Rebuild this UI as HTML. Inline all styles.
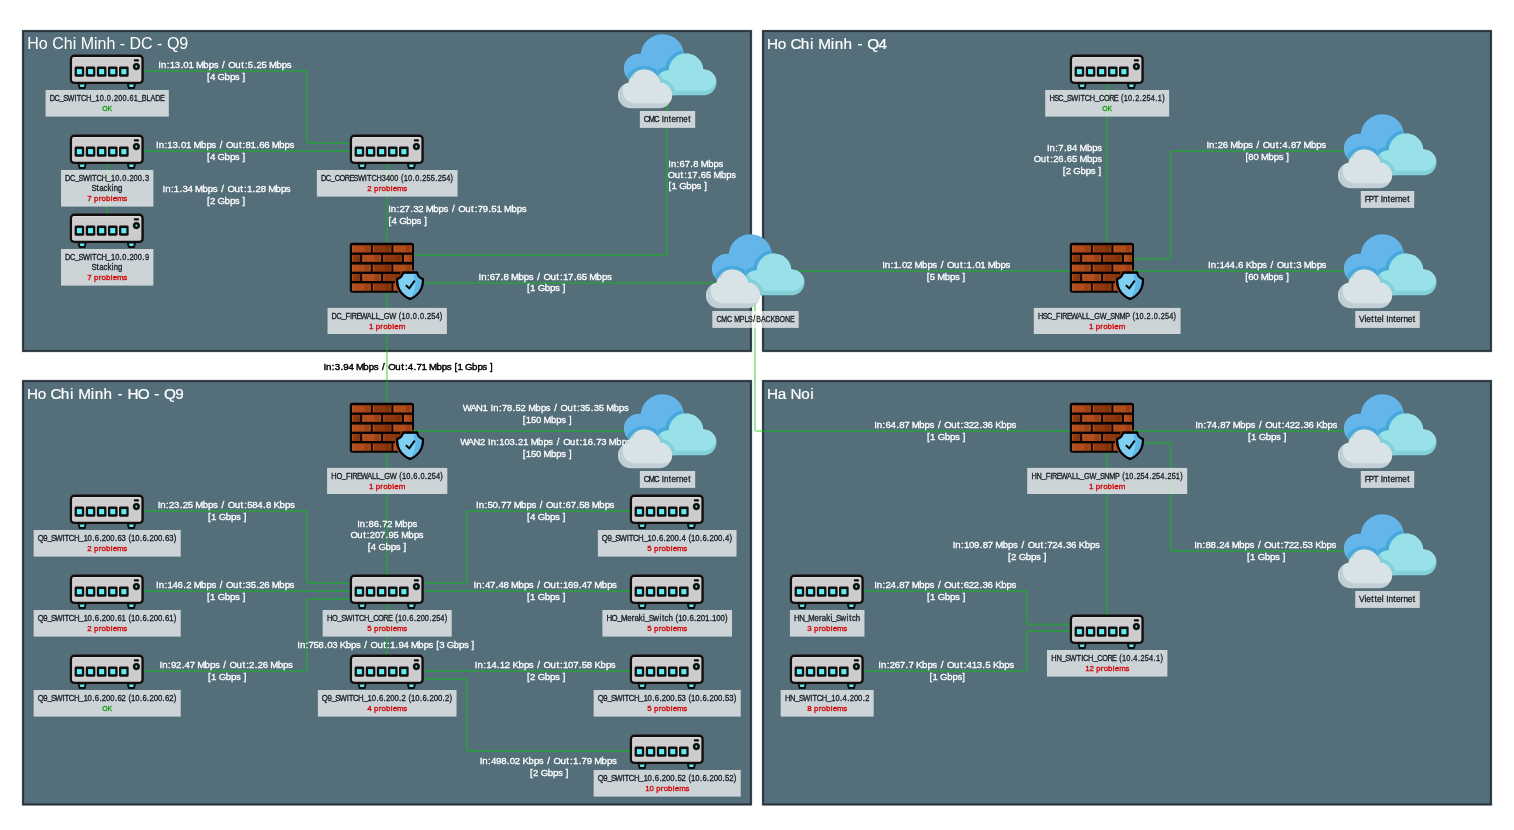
<!DOCTYPE html>
<html lang="en">
<head>
<meta charset="utf-8">
<title>Network map</title>
<style>
html,body{margin:0;padding:0;background:#fff;}
body{width:1514px;height:830px;overflow:hidden;font-family:"Liberation Sans", sans-serif;}
svg{display:block;position:absolute;left:0;top:0;will-change:transform;}
text{white-space:pre;}
</style>
</head>
<body>
<svg width="1514" height="830" viewBox="0 0 1514 830" font-family='"Liberation Sans", sans-serif'>
<defs>
<symbol id="sw" width="74" height="36" viewBox="0 0 74 36" overflow="visible">
  <path d="M8.5 29.6 L9.6 34.1 H14.7 L15.8 29.6 Z" fill="#5ff0f5" stroke="#120e0d" stroke-width="2" stroke-linejoin="round"/>
  <path d="M57.8 29.6 L58.9 34.1 H64 L65.1 29.6 Z" fill="#5ff0f5" stroke="#120e0d" stroke-width="2" stroke-linejoin="round"/>
  <rect x="1" y="1.8" width="71.6" height="27.1" rx="3.2" ry="3.2" fill="#cdcdcf" stroke="#120e0d" stroke-width="2.4"/>
  <path d="M3 27 V5 Q3 3.6 4.4 3.6 H70" fill="none" stroke="#d9d9dc" stroke-width="1.1"/>
  <g fill="#120e0d">
    <rect x="4.6" y="12.55" width="9.6" height="10.2" rx="1.4"/>
    <rect x="15.75" y="12.55" width="9.6" height="10.2" rx="1.4"/>
    <rect x="26.85" y="12.55" width="9.6" height="10.2" rx="1.4"/>
    <rect x="37.95" y="12.55" width="9.6" height="10.2" rx="1.4"/>
    <rect x="49.05" y="12.55" width="9.6" height="10.2" rx="1.4"/>
    <rect x="63.9" y="5.2" width="5" height="2.2" rx="0.4"/>
  </g>
  <g fill="#5ff0f5">
    <rect x="6.9" y="15.05" width="5" height="5.2"/>
    <rect x="18.05" y="15.05" width="5" height="5.2"/>
    <rect x="29.15" y="15.05" width="5" height="5.2"/>
    <rect x="40.25" y="15.05" width="5" height="5.2"/>
    <rect x="51.35" y="15.05" width="5" height="5.2"/>
  </g>
  <circle cx="66.4" cy="12.6" r="2.3" fill="#5ff0f5" stroke="#120e0d" stroke-width="2.5"/>
</symbol>
<symbol id="fw" width="74" height="58" viewBox="0 0 74 58" overflow="visible">
  <mask id="fwm" maskUnits="userSpaceOnUse" x="-2" y="-2" width="80" height="62">
    <rect x="-2" y="-2" width="80" height="62" fill="#fff"/>
    <path d="M52.9 29.6 H67.1 C67.6 33 69.6 35.2 72.9 36.1 C73.2 45.5 69 52 60 56 C51 52 46.8 45.5 47.1 36.1 C50.4 35.2 52.4 33 52.9 29.6 Z" fill="#000" stroke="#000" stroke-width="4.6" stroke-linejoin="round"/>
  </mask>
  <g>
    <rect x="1" y="0.8" width="62" height="47.8" fill="#a4451a"/>
    <rect x="-0.2" y="-0.35" width="64.2" height="50" rx="2.6" fill="#060302" mask="url(#fwm)"/>
    <rect x="2.05" y="2.3" width="18.75" height="7.20" fill="#b14d1c"/><rect x="22.8" y="2.3" width="18.75" height="7.20" fill="#8f370d"/><rect x="43.5" y="2.3" width="18.50" height="7.20" fill="#b14d1c"/><rect x="2.05" y="11.8" width="7.95" height="7.05" fill="#8f370d"/><rect x="12.3" y="11.8" width="18.75" height="7.05" fill="#b14d1c"/><rect x="33.2" y="11.8" width="18.75" height="7.05" fill="#8f370d"/><rect x="54.0" y="11.8" width="8.00" height="7.05" fill="#b14d1c"/><rect x="2.05" y="21.6" width="18.75" height="7.05" fill="#b14d1c"/><rect x="22.8" y="21.6" width="18.75" height="7.05" fill="#8f370d"/><rect x="43.5" y="21.6" width="18.50" height="7.05" fill="#b14d1c"/><rect x="2.05" y="31.0" width="7.95" height="7.00" fill="#8f370d"/><rect x="12.3" y="31.0" width="18.75" height="7.00" fill="#b14d1c"/><rect x="33.2" y="31.0" width="18.75" height="7.00" fill="#8f370d"/><rect x="54.0" y="31.0" width="8.00" height="7.00" fill="#b14d1c"/><rect x="2.05" y="40.4" width="18.75" height="7.40" fill="#b14d1c"/><rect x="22.8" y="40.4" width="18.75" height="7.40" fill="#8f370d"/><rect x="43.5" y="40.4" width="18.50" height="7.40" fill="#b14d1c"/>
    <g fill="#6a2602" opacity="0.3"><rect x="14.43" y="2.3" width="4.77" height="7.20"/><rect x="35.17" y="2.3" width="4.77" height="7.20"/><rect x="55.71" y="2.3" width="4.69" height="7.20"/><rect x="7.30" y="11.8" width="1.91" height="7.05"/><rect x="24.68" y="11.8" width="4.77" height="7.05"/><rect x="45.58" y="11.8" width="4.77" height="7.05"/><rect x="59.28" y="11.8" width="1.92" height="7.05"/><rect x="14.43" y="21.6" width="4.77" height="7.05"/><rect x="35.17" y="21.6" width="4.77" height="7.05"/><rect x="55.71" y="21.6" width="4.69" height="7.05"/><rect x="7.30" y="31.0" width="1.91" height="7.00"/><rect x="24.68" y="31.0" width="4.77" height="7.00"/><rect x="45.58" y="31.0" width="4.77" height="7.00"/><rect x="59.28" y="31.0" width="1.92" height="7.00"/><rect x="14.43" y="40.4" width="4.77" height="7.40"/><rect x="35.17" y="40.4" width="4.77" height="7.40"/><rect x="55.71" y="40.4" width="4.69" height="7.40"/></g>
    <g fill="#d9642a" opacity="0.45"><rect x="2.05" y="2.3" width="1.3" height="7.20"/><rect x="22.8" y="2.3" width="1.3" height="7.20"/><rect x="43.5" y="2.3" width="1.3" height="7.20"/><rect x="2.05" y="11.8" width="1.3" height="7.05"/><rect x="12.3" y="11.8" width="1.3" height="7.05"/><rect x="33.2" y="11.8" width="1.3" height="7.05"/><rect x="54.0" y="11.8" width="1.3" height="7.05"/><rect x="2.05" y="21.6" width="1.3" height="7.05"/><rect x="22.8" y="21.6" width="1.3" height="7.05"/><rect x="43.5" y="21.6" width="1.3" height="7.05"/><rect x="2.05" y="31.0" width="1.3" height="7.00"/><rect x="12.3" y="31.0" width="1.3" height="7.00"/><rect x="33.2" y="31.0" width="1.3" height="7.00"/><rect x="54.0" y="31.0" width="1.3" height="7.00"/><rect x="2.05" y="40.4" width="1.3" height="7.40"/><rect x="22.8" y="40.4" width="1.3" height="7.40"/><rect x="43.5" y="40.4" width="1.3" height="7.40"/></g>
  </g>
  <path d="M52.9 29.6 H67.1 C67.6 33 69.6 35.2 72.9 36.1 C73.2 45.5 69 52 60 56 C51 52 46.8 45.5 47.1 36.1 C50.4 35.2 52.4 33 52.9 29.6 Z" fill="#7dd0f3" stroke="#060302" stroke-width="2" stroke-linejoin="round"/>
  <clipPath id="fws"><path d="M52.9 29.6 H67.1 C67.6 33 69.6 35.2 72.9 36.1 C73.2 45.5 69 52 60 56 C51 52 46.8 45.5 47.1 36.1 C50.4 35.2 52.4 33 52.9 29.6 Z"/></clipPath>
  <g clip-path="url(#fws)"><path d="M61.5 29 C66.5 36 66.5 48 59.5 57 L75 57 V29 Z" fill="#5cbae9"/></g>
  <path d="M52.9 29.6 H67.1 C67.6 33 69.6 35.2 72.9 36.1 C73.2 45.5 69 52 60 56 C51 52 46.8 45.5 47.1 36.1 C50.4 35.2 52.4 33 52.9 29.6 Z" fill="none" stroke="#060302" stroke-width="2.1" stroke-linejoin="round"/>
  <path d="M55.9 42.2 L59.3 45.4 L64.7 37.6" fill="none" stroke="#060302" stroke-width="1.9"/>
</symbol>
<symbol id="cl" width="100" height="76" viewBox="0 0 100 76" overflow="visible">
  <clipPath id="clB"><circle cx="44.4" cy="21.9" r="21.7"/><circle cx="20.7" cy="34.5" r="14.8"/><rect x="20" y="30" width="44" height="30"/></clipPath>
  <clipPath id="clC"><circle cx="68.1" cy="36.8" r="17.3"/><circle cx="85.6" cy="48.4" r="12.85"/><circle cx="50" cy="48.9" r="12.35"/><rect x="50" y="40" width="35.6" height="21.25"/></clipPath>
  <clipPath id="clW"><circle cx="26.3" cy="51.6" r="16.1"/><circle cx="12.6" cy="61.3" r="12.85"/><circle cx="41.2" cy="61.3" r="12.85"/><rect x="12.6" y="55" width="28.6" height="19.15"/></clipPath>
  <g clip-path="url(#clB)">
    <rect x="0" y="0" width="100" height="76" fill="#64b5e9"/>
    <g fill="#49a8dc" stroke="#49a8dc" stroke-width="7.5">
      <circle cx="68.1" cy="36.8" r="17.3"/><circle cx="50" cy="48.9" r="12.35"/>
      <circle cx="26.3" cy="51.6" r="16.1"/><circle cx="12.6" cy="61.3" r="12.85"/><circle cx="41.2" cy="61.3" r="12.85"/>
    </g>
  </g>
  <g clip-path="url(#clC)">
    <rect x="0" y="0" width="100" height="76" fill="#85cfd8"/>
    <g fill="#99e0e9" transform="translate(0,-4.6)">
      <circle cx="68.1" cy="36.8" r="17.3"/><circle cx="85.6" cy="48.4" r="12.85"/><circle cx="50" cy="48.9" r="12.35"/><rect x="50" y="40" width="35.6" height="21.25"/>
    </g>
    <g fill="#85cfd8" stroke="#85cfd8" stroke-width="7.5">
      <circle cx="26.3" cy="51.6" r="16.1"/><circle cx="41.2" cy="61.3" r="12.85"/>
    </g>
  </g>
  <g clip-path="url(#clW)">
    <rect x="0" y="0" width="100" height="76" fill="#c2d0d5"/>
    <g fill="#d8e3e8" transform="translate(4.8,-4.8)">
      <circle cx="26.3" cy="51.6" r="16.1"/><circle cx="12.6" cy="61.3" r="12.85"/><circle cx="41.2" cy="61.3" r="12.85"/><rect x="12.6" y="55" width="28.6" height="19.15"/>
    </g>
  </g>
</symbol>
</defs>

<rect x="0" y="0" width="1514" height="830" fill="#ffffff"/>
<g id="panels">
<rect x="23" y="31" width="728" height="320" fill="#546e7a" stroke="#263238" stroke-opacity="0.28" stroke-width="2.7"/>
<rect x="23" y="31" width="728" height="320" fill="none" stroke="#263238" stroke-width="1.75"/>
<rect x="763" y="31" width="728" height="320" fill="#546e7a" stroke="#263238" stroke-opacity="0.28" stroke-width="2.7"/>
<rect x="763" y="31" width="728" height="320" fill="none" stroke="#263238" stroke-width="1.75"/>
<rect x="23" y="381" width="728" height="423.5" fill="#546e7a" stroke="#263238" stroke-opacity="0.28" stroke-width="2.7"/>
<rect x="23" y="381" width="728" height="423.5" fill="none" stroke="#263238" stroke-width="1.75"/>
<rect x="763" y="381" width="728" height="423.5" fill="#546e7a" stroke="#263238" stroke-opacity="0.28" stroke-width="2.7"/>
<rect x="763" y="381" width="728" height="423.5" fill="none" stroke="#263238" stroke-width="1.75"/>
<text x="27.30" y="49.00" font-size="16" fill="#fff">Ho Chi Minh - DC - Q9</text>
<text transform="translate(767.3 49) scale(1.0000 1)" x="-0.29 10.51 19.34 23.13 33.55 42.76 47.02 50.85 63.48 67.57 76.31 85.21 90.13 95.9 99.89 111.19" font-size="15.3" fill="#fff" stroke="#fff" stroke-width="0.2">Ho Chi Minh - Q4</text>
<text transform="translate(27.3 399) scale(1.0000 1)" x="-0.29 10.51 19.34 23.13 33.55 42.76 47.02 50.85 63.48 67.57 76.31 85.21 90.13 95.9 100.14 110.34 121.96 126.88 132.65 136.64 147.94" font-size="15.3" fill="#fff" stroke="#fff" stroke-width="0.2">Ho Chi Minh - HO - Q9</text>
<text transform="translate(767.3 399) scale(1.0000 1)" x="-0.29 10.41 19.15 23.26 33.93 43.06" font-size="15.3" fill="#fff" stroke="#fff" stroke-width="0.2">Ha Noi</text>
</g>
<g id="links" fill="none" stroke="rgba(0,204,0,0.40)" stroke-linejoin="round">
<path d="M143 71 L305 71 Q307 71 307 73 L307 141 Q307 143 309 143 L352 143" stroke-width="2"/>
<path d="M143 151 L352 151" stroke-width="2"/>
<path d="M107 158 L107 218" stroke-width="2"/>
<path d="M387 158 L387 248" stroke-width="2"/>
<path d="M387 288 L387 408" stroke-width="2"/>
<path d="M410 255 L665 255 Q667 255 667 253 L667 98" stroke-width="2"/>
<path d="M418 283 L722 283" stroke-width="2"/>
<path d="M755 288 L755 429 Q755 431 757 431 L1074 431" stroke-width="2"/>
<path d="M788 271 L1074 271" stroke-width="2"/>
<path d="M1107 78 L1107 248" stroke-width="2"/>
<path d="M1132 259 L1169 259 Q1171 259 1171 257 L1171 153 Q1171 151 1173 151 L1345 151" stroke-width="2"/>
<path d="M1132 271 L1345 271" stroke-width="2"/>
<path d="M412 431 L640 431" stroke-width="2"/>
<path d="M387 448 L387 580" stroke-width="2"/>
<path d="M143 511 L305 511 Q307 511 307 513 L307 581 Q307 583 309 583 L352 583" stroke-width="2"/>
<path d="M143 591 L352 591" stroke-width="2"/>
<path d="M143 671 L305 671 Q307 671 307 669 L307 601 Q307 599 309 599 L352 599" stroke-width="2"/>
<path d="M422 583 L465 583 Q467 583 467 581 L467 513 Q467 511 469 511 L632 511" stroke-width="2"/>
<path d="M422 591 L632 591" stroke-width="2"/>
<path d="M387 598 L387 660" stroke-width="2"/>
<path d="M422 671 L632 671" stroke-width="2"/>
<path d="M422 679 L465 679 Q467 679 467 681 L467 749 Q467 751 469 751 L632 751" stroke-width="2"/>
<path d="M1132 431 L1345 431" stroke-width="2"/>
<path d="M1140 443 L1169 443 Q1171 443 1171 445 L1171 549 Q1171 551 1173 551 L1345 551" stroke-width="2"/>
<path d="M1107 448 L1107 620" stroke-width="2"/>
<path d="M863 591 L1025 591 Q1027 591 1027 593 L1027 622.5 Q1027 624.5 1029 624.5 L1072 624.5" stroke-width="2"/>
<path d="M863 671 L1025 671 Q1027 671 1027 669 L1027 633 Q1027 631 1029 631 L1072 631" stroke-width="2"/>
</g>
<g id="linklabels">
<text transform="translate(158.36 67.7) scale(0.9868 1)" x="0 2.66 8.49 11.48 16.61 22.33 25.32 30.44 35.84 38.06 45.61 51.05 56.03 60.57 64.6 68.64 70.96 78.01 83.98 87.71 90.7 96.42 99.41 104.54 109.93 112.15 119.7 125.15 130.12" font-size="9.8" fill="#ffffff" stroke="#ffffff" stroke-width="0.3">In:13.01 Mbps / Out:5.25 Mbps</text>
<text transform="translate(206.53 79.5) scale(0.9840 1)" x="0.44 3.44 8.85 11.19 18.33 23.79 28.78 33.33 36.61" font-size="9.8" fill="#ffffff" stroke="#ffffff" stroke-width="0.3">[4 Gbps ]</text>
<text transform="translate(156.03 147.9) scale(0.9846 1)" x="0 2.68 8.51 11.52 16.65 22.38 25.39 30.52 35.93 38.16 45.72 51.18 56.17 60.71 64.76 68.8 71.13 78.2 84.17 87.91 90.92 96.05 101.78 104.79 109.92 115.33 117.56 125.12 130.58 135.57" font-size="9.8" fill="#ffffff" stroke="#ffffff" stroke-width="0.3">In:13.01 Mbps / Out:81.66 Mbps</text>
<text transform="translate(206.53 159.7) scale(0.9840 1)" x="0.44 3.44 8.85 11.19 18.33 23.79 28.78 33.33 36.61" font-size="9.8" fill="#ffffff" stroke="#ffffff" stroke-width="0.3">[4 Gbps ]</text>
<text transform="translate(162.54 191.8) scale(0.9893 1)" x="-0.01 2.65 8.47 11.45 17.16 20.14 25.25 30.64 32.84 40.37 45.81 50.77 55.3 59.33 63.35 65.66 72.69 78.65 82.37 85.36 91.06 94.05 99.16 104.54 106.75 114.28 119.71 124.68" font-size="9.8" fill="#ffffff" stroke="#ffffff" stroke-width="0.3">In:1.34 Mbps / Out:1.28 Mbps</text>
<text transform="translate(206.53 203.6) scale(0.9840 1)" x="0.44 3.44 8.85 11.19 18.33 23.79 28.78 33.33 36.61" font-size="9.8" fill="#ffffff" stroke="#ffffff" stroke-width="0.3">[2 Gbps ]</text>
<text transform="translate(388.2 211.7) scale(0.9846 1)" x="0 2.68 8.51 11.52 16.65 22.38 25.39 30.52 35.93 38.16 45.72 51.18 56.17 60.71 64.76 68.8 71.13 78.2 84.17 87.91 90.92 96.05 101.78 104.79 109.92 115.33 117.56 125.12 130.58 135.57" font-size="9.8" fill="#ffffff" stroke="#ffffff" stroke-width="0.3">In:27.32 Mbps / Out:79.51 Mbps</text>
<text transform="translate(388.2 223.5) scale(0.9840 1)" x="0.44 3.44 8.85 11.19 18.33 23.79 28.78 33.33 36.61" font-size="9.8" fill="#ffffff" stroke="#ffffff" stroke-width="0.3">[4 Gbps ]</text>
<text transform="translate(668.2 166.5) scale(0.9639 1)" x="0.03 2.79 8.72 11.82 17.07 22.89 25.99 31.48 33.82 41.51 47.09 52.18" font-size="9.8" fill="#ffffff" stroke="#ffffff" stroke-width="0.3">In:67.8 Mbps</text>
<text transform="translate(668.2 177.5) scale(0.9653 1)" x="-0.44 6.74 12.81 16.63 19.72 24.96 30.77 33.86 39.1 44.59 46.92 54.6 60.17 65.25" font-size="9.8" fill="#ffffff" stroke="#ffffff" stroke-width="0.3">Out:17.65 Mbps</text>
<text transform="translate(668.2 189.3) scale(0.9840 1)" x="0.44 3.44 8.85 11.19 18.33 23.79 28.78 33.33 36.61" font-size="9.8" fill="#ffffff" stroke="#ffffff" stroke-width="0.3">[1 Gbps ]</text>
<text transform="translate(478.51 279.5) scale(0.9868 1)" x="0 2.66 8.49 11.48 16.61 22.33 25.32 30.72 32.94 40.48 45.93 50.91 55.45 59.48 63.51 65.83 72.88 78.85 82.58 85.58 90.7 96.42 99.41 104.54 109.93 112.15 119.7 125.15 130.12" font-size="9.8" fill="#ffffff" stroke="#ffffff" stroke-width="0.3">In:67.8 Mbps / Out:17.65 Mbps</text>
<text transform="translate(526.63 291.3) scale(0.9840 1)" x="0.44 3.44 8.85 11.19 18.33 23.79 28.78 33.33 36.61" font-size="9.8" fill="#ffffff" stroke="#ffffff" stroke-width="0.3">[1 Gbps ]</text>
<text transform="translate(1046.89 150.7) scale(0.9639 1)" x="0.03 2.79 8.72 11.82 17.64 20.74 25.99 31.48 33.82 41.51 47.09 52.18" font-size="9.8" fill="#ffffff" stroke="#ffffff" stroke-width="0.3">In:7.84 Mbps</text>
<text transform="translate(1034.19 161.7) scale(0.9653 1)" x="-0.44 6.74 12.81 16.63 19.72 24.96 30.77 33.86 39.1 44.59 46.92 54.6 60.17 65.25" font-size="9.8" fill="#ffffff" stroke="#ffffff" stroke-width="0.3">Out:26.65 Mbps</text>
<text transform="translate(1062.37 173.5) scale(0.9840 1)" x="0.44 3.44 8.85 11.19 18.33 23.79 28.78 33.33 36.61" font-size="9.8" fill="#ffffff" stroke="#ffffff" stroke-width="0.3">[2 Gbps ]</text>
<text transform="translate(882.14 267.7) scale(0.9893 1)" x="-0.01 2.65 8.47 11.45 17.16 20.14 25.25 30.64 32.84 40.37 45.81 50.77 55.3 59.33 63.35 65.66 72.69 78.65 82.37 85.36 91.06 94.05 99.16 104.54 106.75 114.28 119.71 124.68" font-size="9.8" fill="#ffffff" stroke="#ffffff" stroke-width="0.3">In:1.02 Mbps / Out:1.01 Mbps</text>
<text transform="translate(926.28 279.5) scale(0.9787 1)" x="0.45 3.48 8.91 11.17 18.77 24.26 29.27 33.84 37.14" font-size="9.8" fill="#ffffff" stroke="#ffffff" stroke-width="0.3">[5 Mbps ]</text>
<text transform="translate(1206.44 147.7) scale(0.9851 1)" x="0 2.67 8.51 11.51 16.64 22.05 24.27 31.83 37.29 42.27 46.82 50.86 54.9 57.23 64.29 70.27 74 77.01 82.73 85.73 90.87 96.27 98.5 106.06 111.51 116.5" font-size="9.8" fill="#ffffff" stroke="#ffffff" stroke-width="0.3">In:26 Mbps / Out:4.87 Mbps</text>
<text transform="translate(1244.95 159.5) scale(0.9727 1)" x="0.46 3.52 8.71 14.17 16.46 24.1 29.62 34.67 39.26 42.57" font-size="9.8" fill="#ffffff" stroke="#ffffff" stroke-width="0.3">[80 Mbps ]</text>
<text transform="translate(1208.08 267.7) scale(0.9878 1)" x="0 2.66 8.48 11.47 16.59 21.71 27.42 30.41 35.81 38.18 44.26 49.7 54.68 59.21 63.24 67.27 69.59 76.63 82.6 86.32 89.31 94.71 96.92 104.46 109.9 114.88" font-size="9.8" fill="#ffffff" stroke="#ffffff" stroke-width="0.3">In:144.6 Kbps / Out:3 Mbps</text>
<text transform="translate(1244.75 279.5) scale(0.9727 1)" x="0.46 3.52 8.71 14.17 16.46 24.1 29.62 34.67 39.26 42.57" font-size="9.8" fill="#ffffff" stroke="#ffffff" stroke-width="0.3">[60 Mbps ]</text>
<text transform="translate(463.67 410.7) scale(0.9627 1)" x="-0.98 6.98 12.86 19.5 24.99 27.9 30.66 36.6 39.7 44.96 50.78 53.89 59.14 64.64 66.98 74.68 80.26 85.36 89.99 94.12 98.26 100.69 107.89 113.98 117.8 120.9 126.16 131.98 135.09 140.34 145.84 148.18 155.88 161.46 166.56" font-size="9.8" fill="#ffffff" stroke="#ffffff" stroke-width="0.3">WAN1 In:78.52 Mbps / Out:35.35 Mbps</text>
<text transform="translate(522.42 422.5) scale(0.9679 1)" x="0.47 3.55 8.77 13.99 19.47 21.79 29.45 35.01 40.08 44.68 48.01" font-size="9.8" fill="#ffffff" stroke="#ffffff" stroke-width="0.3">[150 Mbps ]</text>
<text transform="translate(461.14 444.7) scale(0.9617 1)" x="-0.98 6.99 12.88 19.52 25.02 27.93 30.7 36.64 39.75 45.01 50.27 56.1 59.21 64.47 69.97 72.32 80.03 85.62 90.72 95.35 99.49 103.62 106.07 113.28 119.36 123.19 126.3 131.56 137.39 140.5 145.76 151.26 153.61 161.32 166.91 172.01" font-size="9.8" fill="#ffffff" stroke="#ffffff" stroke-width="0.3">WAN2 In:103.21 Mbps / Out:16.73 Mbps</text>
<text transform="translate(522.42 456.5) scale(0.9679 1)" x="0.47 3.55 8.77 13.99 19.47 21.79 29.45 35.01 40.08 44.68 48.01" font-size="9.8" fill="#ffffff" stroke="#ffffff" stroke-width="0.3">[150 Mbps ]</text>
<text transform="translate(157.72 507.7) scale(0.9869 1)" x="0 2.66 8.49 11.48 16.61 22.33 25.32 30.44 35.84 38.06 45.61 51.05 56.03 60.57 64.6 68.64 70.95 78.01 83.98 87.71 90.7 95.82 100.95 106.67 109.66 115.06 117.44 123.52 128.97 133.95" font-size="9.8" fill="#ffffff" stroke="#ffffff" stroke-width="0.3">In:23.25 Mbps / Out:584.8 Kbps</text>
<text transform="translate(207.63 519.5) scale(0.9840 1)" x="0.44 3.44 8.85 11.19 18.33 23.79 28.78 33.33 36.61" font-size="9.8" fill="#ffffff" stroke="#ffffff" stroke-width="0.3">[1 Gbps ]</text>
<text transform="translate(357.17 526.7) scale(0.9608 1)" x="0.03 2.81 8.76 11.87 17.13 22.97 26.08 31.35 36.85 39.2 46.92 52.51 57.62" font-size="9.8" fill="#ffffff" stroke="#ffffff" stroke-width="0.3">In:86.72 Mbps</text>
<text transform="translate(350.82 537.7) scale(0.9626 1)" x="-0.43 6.77 12.85 16.68 19.78 25.03 30.29 36.12 39.22 44.47 49.97 52.31 60.02 65.6 70.7" font-size="9.8" fill="#ffffff" stroke="#ffffff" stroke-width="0.3">Out:207.95 Mbps</text>
<text transform="translate(367.43 549.5) scale(0.9840 1)" x="0.44 3.44 8.85 11.19 18.33 23.79 28.78 33.33 36.61" font-size="9.8" fill="#ffffff" stroke="#ffffff" stroke-width="0.3">[4 Gbps ]</text>
<text transform="translate(476.08 507.7) scale(0.9846 1)" x="0 2.68 8.51 11.52 16.65 22.38 25.39 30.52 35.93 38.16 45.72 51.18 56.17 60.71 64.76 68.8 71.13 78.2 84.17 87.91 90.92 96.05 101.78 104.79 109.92 115.33 117.56 125.12 130.58 135.57" font-size="9.8" fill="#ffffff" stroke="#ffffff" stroke-width="0.3">In:50.77 Mbps / Out:67.58 Mbps</text>
<text transform="translate(526.63 519.5) scale(0.9840 1)" x="0.44 3.44 8.85 11.19 18.33 23.79 28.78 33.33 36.61" font-size="9.8" fill="#ffffff" stroke="#ffffff" stroke-width="0.3">[4 Gbps ]</text>
<text transform="translate(156.08 587.7) scale(0.9846 1)" x="0 2.68 8.51 11.52 16.65 21.79 27.52 30.52 35.93 38.16 45.72 51.18 56.17 60.71 64.76 68.8 71.13 78.2 84.17 87.91 90.92 96.05 101.78 104.79 109.92 115.33 117.56 125.12 130.58 135.57" font-size="9.8" fill="#ffffff" stroke="#ffffff" stroke-width="0.3">In:146.2 Mbps / Out:35.26 Mbps</text>
<text transform="translate(206.63 599.5) scale(0.9840 1)" x="0.44 3.44 8.85 11.19 18.33 23.79 28.78 33.33 36.61" font-size="9.8" fill="#ffffff" stroke="#ffffff" stroke-width="0.3">[1 Gbps ]</text>
<text transform="translate(473.55 587.7) scale(0.9824 1)" x="0 2.69 8.53 11.55 16.69 22.43 25.45 30.59 36.01 38.25 45.82 51.29 56.29 60.85 64.9 68.95 71.29 78.37 84.36 88.11 91.12 96.27 101.41 107.15 110.17 115.31 120.73 122.97 130.54 136.01 141.01" font-size="9.8" fill="#ffffff" stroke="#ffffff" stroke-width="0.3">In:47.48 Mbps / Out:169.47 Mbps</text>
<text transform="translate(526.63 599.5) scale(0.9840 1)" x="0.44 3.44 8.85 11.19 18.33 23.79 28.78 33.33 36.61" font-size="9.8" fill="#ffffff" stroke="#ffffff" stroke-width="0.3">[1 Gbps ]</text>
<text transform="translate(297.3 647.7) scale(0.9808 1)" x="0 2.66 8.48 11.48 16.6 21.72 27.43 30.43 35.55 40.94 43.32 49.4 54.84 59.82 64.36 68.39 72.42 74.73 81.78 87.75 91.48 94.47 100.18 103.18 108.3 113.69 115.91 123.45 128.89 133.87 138.41 141.67 144.66 150.06 152.38 159.49 164.94 169.91 174.45 177.71" font-size="9.8" fill="#ffffff" stroke="#ffffff" stroke-width="0.3">In:758.03 Kbps / Out:1.94 Mbps [3 Gbps ]</text>
<text transform="translate(159.61 667.7) scale(0.9868 1)" x="0 2.66 8.49 11.48 16.61 22.33 25.32 30.44 35.84 38.06 45.61 51.05 56.03 60.57 64.6 68.64 70.96 78.01 83.98 87.71 90.7 96.42 99.41 104.54 109.93 112.15 119.7 125.15 130.12" font-size="9.8" fill="#ffffff" stroke="#ffffff" stroke-width="0.3">In:92.47 Mbps / Out:2.26 Mbps</text>
<text transform="translate(207.63 679.5) scale(0.9840 1)" x="0.44 3.44 8.85 11.19 18.33 23.79 28.78 33.33 36.61" font-size="9.8" fill="#ffffff" stroke="#ffffff" stroke-width="0.3">[1 Gbps ]</text>
<text transform="translate(474.83 667.7) scale(0.9869 1)" x="0 2.66 8.49 11.48 16.61 22.33 25.32 30.44 35.84 38.22 44.3 49.75 54.73 59.27 63.3 67.34 69.65 76.71 82.67 86.4 89.4 94.52 99.65 105.36 108.36 113.48 118.88 121.26 127.34 132.79 137.77" font-size="9.8" fill="#ffffff" stroke="#ffffff" stroke-width="0.3">In:14.12 Kbps / Out:107.58 Kbps</text>
<text transform="translate(526.63 679.5) scale(0.9840 1)" x="0.44 3.44 8.85 11.19 18.33 23.79 28.78 33.33 36.61" font-size="9.8" fill="#ffffff" stroke="#ffffff" stroke-width="0.3">[2 Gbps ]</text>
<text transform="translate(479.72 763.7) scale(0.9869 1)" x="0 2.66 8.49 11.48 16.61 21.73 27.45 30.44 35.57 40.96 43.35 49.43 54.88 59.85 64.39 68.43 72.46 74.78 81.83 87.8 91.53 94.52 100.24 103.24 108.36 113.76 115.97 123.52 128.97 133.95" font-size="9.8" fill="#ffffff" stroke="#ffffff" stroke-width="0.3">In:498.02 Kbps / Out:1.79 Mbps</text>
<text transform="translate(529.63 775.5) scale(0.9840 1)" x="0.44 3.44 8.85 11.19 18.33 23.79 28.78 33.33 36.61" font-size="9.8" fill="#ffffff" stroke="#ffffff" stroke-width="0.3">[2 Gbps ]</text>
<text transform="translate(874.19 427.7) scale(0.9846 1)" x="0 2.68 8.51 11.52 16.65 22.38 25.38 30.52 35.92 38.15 45.72 51.17 56.16 60.71 64.75 68.8 71.12 78.19 84.17 87.91 90.91 96.05 101.18 106.91 109.91 115.05 120.46 122.85 128.94 134.4 139.39" font-size="9.8" fill="#ffffff" stroke="#ffffff" stroke-width="0.3">In:64.87 Mbps / Out:322.36 Kbps</text>
<text transform="translate(926.63 439.5) scale(0.9840 1)" x="0.44 3.44 8.85 11.19 18.33 23.79 28.78 33.33 36.61" font-size="9.8" fill="#ffffff" stroke="#ffffff" stroke-width="0.3">[1 Gbps ]</text>
<text transform="translate(1195.19 427.7) scale(0.9846 1)" x="0 2.68 8.51 11.52 16.65 22.38 25.38 30.52 35.92 38.15 45.72 51.17 56.16 60.71 64.75 68.8 71.12 78.19 84.17 87.91 90.91 96.05 101.18 106.91 109.91 115.05 120.46 122.85 128.94 134.4 139.39" font-size="9.8" fill="#ffffff" stroke="#ffffff" stroke-width="0.3">In:74.87 Mbps / Out:422.36 Kbps</text>
<text transform="translate(1247.63 439.5) scale(0.9840 1)" x="0.44 3.44 8.85 11.19 18.33 23.79 28.78 33.33 36.61" font-size="9.8" fill="#ffffff" stroke="#ffffff" stroke-width="0.3">[1 Gbps ]</text>
<text transform="translate(1194.19 547.7) scale(0.9846 1)" x="0 2.68 8.51 11.52 16.65 22.38 25.38 30.52 35.92 38.15 45.72 51.17 56.16 60.71 64.75 68.8 71.12 78.19 84.17 87.91 90.91 96.05 101.18 106.91 109.91 115.05 120.46 122.85 128.94 134.4 139.39" font-size="9.8" fill="#ffffff" stroke="#ffffff" stroke-width="0.3">In:88.24 Mbps / Out:722.53 Kbps</text>
<text transform="translate(1246.63 559.5) scale(0.9840 1)" x="0.44 3.44 8.85 11.19 18.33 23.79 28.78 33.33 36.61" font-size="9.8" fill="#ffffff" stroke="#ffffff" stroke-width="0.3">[1 Gbps ]</text>
<text transform="translate(952.66 547.7) scale(0.9826 1)" x="0 2.69 8.53 11.55 16.69 21.84 27.58 30.59 35.74 41.15 43.39 50.96 56.43 61.43 65.99 70.04 74.09 76.43 83.51 89.49 93.24 96.25 101.4 106.55 112.28 115.3 120.44 125.86 128.26 134.37 139.84 144.83" font-size="9.8" fill="#ffffff" stroke="#ffffff" stroke-width="0.3">In:109.87 Mbps / Out:724.36 Kbps</text>
<text transform="translate(1007.63 559.5) scale(0.9840 1)" x="0.44 3.44 8.85 11.19 18.33 23.79 28.78 33.33 36.61" font-size="9.8" fill="#ffffff" stroke="#ffffff" stroke-width="0.3">[2 Gbps ]</text>
<text transform="translate(874.19 587.7) scale(0.9846 1)" x="0 2.68 8.51 11.52 16.65 22.38 25.38 30.52 35.92 38.15 45.72 51.17 56.16 60.71 64.75 68.8 71.12 78.19 84.17 87.91 90.91 96.05 101.18 106.91 109.91 115.05 120.46 122.85 128.94 134.4 139.39" font-size="9.8" fill="#ffffff" stroke="#ffffff" stroke-width="0.3">In:24.87 Mbps / Out:622.36 Kbps</text>
<text transform="translate(926.63 599.5) scale(0.9840 1)" x="0.44 3.44 8.85 11.19 18.33 23.79 28.78 33.33 36.61" font-size="9.8" fill="#ffffff" stroke="#ffffff" stroke-width="0.3">[1 Gbps ]</text>
<text transform="translate(878.36 667.7) scale(0.9892 1)" x="-0.01 2.65 8.47 11.45 16.56 21.67 27.38 30.37 35.75 38.12 44.19 49.63 54.59 59.13 63.15 67.17 69.48 76.52 82.47 86.2 89.18 94.29 99.4 105.11 108.1 113.48 115.85 121.92 127.36 132.32" font-size="9.8" fill="#ffffff" stroke="#ffffff" stroke-width="0.3">In:267.7 Kbps / Out:413.5 Kbps</text>
<text transform="translate(929.09 679.5) scale(0.9779 1)" x="0.45 3.48 8.92 11.29 18.46 23.95 28.97 33.87" font-size="9.8" fill="#ffffff" stroke="#ffffff" stroke-width="0.3">[1 Gbps]</text>
<text transform="translate(323.42 369.7) scale(0.9893 1)" x="-0.01 2.65 8.47 11.45 17.16 20.14 25.25 30.64 32.84 40.38 45.81 50.77 55.31 59.33 63.35 65.66 72.7 78.65 82.37 85.36 91.06 94.05 99.16 104.55 106.75 114.28 119.72 124.68 129.21 132.47 135.46 140.84 143.16 150.26 155.69 160.66 165.19 168.45" font-size="9.8" fill="#000000" stroke="#000000" stroke-width="0.45">In:3.94 Mbps / Out:4.71 Mbps [1 Gbps ]</text>
</g>
<g id="icons">
<use href="#sw" x="70" y="54"/>
<use href="#sw" x="70" y="134"/>
<use href="#sw" x="70" y="213"/>
<use href="#sw" x="350" y="134"/>
<use href="#sw" x="1070" y="54"/>
<use href="#sw" x="70" y="494"/>
<use href="#sw" x="70" y="574"/>
<use href="#sw" x="70" y="654"/>
<use href="#sw" x="350" y="574"/>
<use href="#sw" x="350" y="654"/>
<use href="#sw" x="630" y="494"/>
<use href="#sw" x="630" y="574"/>
<use href="#sw" x="630" y="654"/>
<use href="#sw" x="630" y="734"/>
<use href="#sw" x="790" y="574"/>
<use href="#sw" x="790" y="654"/>
<use href="#sw" x="1070" y="614"/>
<use href="#fw" x="350" y="243"/>
<use href="#fw" x="1070" y="243"/>
<use href="#fw" x="350" y="403"/>
<use href="#fw" x="1070" y="403"/>
<use href="#cl" x="618" y="34"/>
<use href="#cl" x="706" y="234"/>
<use href="#cl" x="1338" y="114"/>
<use href="#cl" x="1338" y="234"/>
<use href="#cl" x="618" y="394"/>
<use href="#cl" x="1338" y="394"/>
<use href="#cl" x="1338" y="514"/>
</g>
<g id="labels">
<rect x="45.58" y="90.00" width="123.25" height="26.60" fill="rgba(255,255,255,0.70)"/>
<text transform="translate(49.88 100.8) scale(0.8740 1)" x="-0.23 5.32 11.15 15.28 20.22 28.19 30.72 35.65 41.38 47.47 52.27 57.06 62.31 65.22 70.47 73.38 78.17 82.97 88.21 91.12 95.92 100.72 105.24 110.61 115.16 120.44 125.93" dy="0 0 -1 1 0 0 0 0 0 -1 1 0 0 0 0 0 0 0 0 0 0 -1 1 0 0 0 0" font-size="8.4" fill="#151d23" stroke="#151d23" stroke-width="0.3">DC_SWITCH_10.0.200.61_BLADE</text>
<text transform="translate(102.2 110.8) scale(0.8651 1)" x="0 6.23" font-size="8.0" fill="#0a9a0a" stroke="#0a9a0a" stroke-width="0.3">OK</text>
<rect x="61.01" y="170.00" width="92.38" height="36.60" fill="rgba(255,255,255,0.70)"/>
<text transform="translate(65.31 180.8) scale(0.8884 1)" x="-0.27 5.18 10.93 14.99 19.83 27.71 30.18 35.02 40.66 46.66 51.38 56.1 61.28 64.12 69.3 72.14 76.86 81.58 86.76 89.6" dy="0 0 -1 1 0 0 0 0 0 -1 1 0 0 0 0 0 0 0 0 0" font-size="8.4" fill="#151d23" stroke="#151d23" stroke-width="0.3">DC_SWITCH_10.0.200.3</text>
<text transform="translate(92.26 190.8) scale(0.9273 1)" x="-0.73 4.69 7.5 12.13 16.44 21.01 23.19 27.71" font-size="8.4" fill="#151d23" stroke="#151d23" stroke-width="0.3">Stacking</text>
<text transform="translate(87.44 200.8) scale(0.9988 1)" x="-0.13 4.29 6.61 11.3 14.11 18.49 23.24 25.27 29.67 35.95" font-size="8.0" fill="#d40000" stroke="#d40000" stroke-width="0.3">7 problems</text>
<rect x="61.01" y="249.00" width="92.38" height="36.60" fill="rgba(255,255,255,0.70)"/>
<text transform="translate(65.31 259.8) scale(0.8884 1)" x="-0.27 5.18 10.93 14.99 19.83 27.71 30.18 35.02 40.66 46.66 51.38 56.1 61.28 64.12 69.3 72.14 76.86 81.58 86.76 89.6" dy="0 0 -1 1 0 0 0 0 0 -1 1 0 0 0 0 0 0 0 0 0" font-size="8.4" fill="#151d23" stroke="#151d23" stroke-width="0.3">DC_SWITCH_10.0.200.9</text>
<text transform="translate(92.26 269.8) scale(0.9273 1)" x="-0.73 4.69 7.5 12.13 16.44 21.01 23.19 27.71" font-size="8.4" fill="#151d23" stroke="#151d23" stroke-width="0.3">Stacking</text>
<text transform="translate(87.44 279.8) scale(0.9988 1)" x="-0.13 4.29 6.61 11.3 14.11 18.49 23.24 25.27 29.67 35.95" font-size="8.0" fill="#d40000" stroke="#d40000" stroke-width="0.3">7 problems</text>
<rect x="316.83" y="170.00" width="140.74" height="26.60" fill="rgba(255,255,255,0.70)"/>
<text transform="translate(321.13 180.8) scale(0.8818 1)" x="-0.25 5.24 11.03 15.42 20.96 26.89 32.19 36.8 41.69 49.61 52.11 56.99 62.67 68.71 73.46 78.22 82.97 87.88 90.68 93.79 98.54 103.75 106.62 111.83 114.71 119.46 124.21 129.42 132.3 137.05 141.81 146.78" dy="0 0 -1 1 0 0 0 0 0 0 0 0 0 0 0 0 0 0 0 0 0 0 0 0 0 0 0 0 0 0 0 0" font-size="8.4" fill="#151d23" stroke="#151d23" stroke-width="0.3">DC_CORESWITCH3400 (10.0.255.254)</text>
<text transform="translate(367.44 190.8) scale(0.9988 1)" x="-0.13 4.29 6.61 11.3 14.11 18.49 23.24 25.27 29.67 35.95" font-size="8.0" fill="#d40000" stroke="#d40000" stroke-width="0.3">2 problems</text>
<rect x="1045.22" y="90.00" width="123.95" height="26.60" fill="rgba(255,255,255,0.70)"/>
<text transform="translate(1049.52 100.8) scale(0.8732 1)" x="-0.04 5.39 10.11 15.94 20.08 25.02 33 35.53 40.47 46.2 52.29 56.74 62.33 68.32 73.67 79.14 81.97 85.11 89.91 95.16 98.07 103.32 106.24 111.04 115.84 121.09 124 129.02" dy="0 0 0 -1 1 0 0 0 0 0 -1 1 0 0 0 0 0 0 0 0 0 0 0 0 0 0 0 0" font-size="8.4" fill="#151d23" stroke="#151d23" stroke-width="0.3">HSC_SWITCH_CORE (10.2.254.1)</text>
<text transform="translate(1102.2 110.8) scale(0.8651 1)" x="0 6.23" font-size="8.0" fill="#0a9a0a" stroke="#0a9a0a" stroke-width="0.3">OK</text>
<rect x="33.65" y="530.00" width="147.10" height="26.60" fill="rgba(255,255,255,0.70)"/>
<text transform="translate(37.95 540.8) scale(0.9213 1)" x="-0.33 5.81 10.36 14.26 18.88 26.59 28.92 33.57 39.01 44.82 49.37 53.92 58.95 61.66 66.69 69.39 73.94 78.49 83.53 86.23 90.78 95.53 98.2 101.13 105.68 110.72 113.42 118.46 121.16 125.71 130.26 135.29 138 142.55 147.35" dy="0 0 -1 1 0 0 0 0 0 -1 1 0 0 0 0 0 0 0 0 0 0 0 0 0 0 0 0 0 0 0 0 0 0 0 0" font-size="8.4" fill="#151d23" stroke="#151d23" stroke-width="0.3">Q9_SWITCH_10.6.200.63 (10.6.200.63)</text>
<text transform="translate(87.44 550.8) scale(0.9988 1)" x="-0.13 4.29 6.61 11.3 14.11 18.49 23.24 25.27 29.67 35.95" font-size="8.0" fill="#d40000" stroke="#d40000" stroke-width="0.3">2 problems</text>
<rect x="33.65" y="610.00" width="147.10" height="26.60" fill="rgba(255,255,255,0.70)"/>
<text transform="translate(37.95 620.8) scale(0.9213 1)" x="-0.33 5.81 10.36 14.26 18.88 26.59 28.92 33.57 39.01 44.82 49.37 53.92 58.95 61.66 66.69 69.39 73.94 78.49 83.53 86.23 90.78 95.53 98.2 101.13 105.68 110.72 113.42 118.46 121.16 125.71 130.26 135.29 138 142.55 147.35" dy="0 0 -1 1 0 0 0 0 0 -1 1 0 0 0 0 0 0 0 0 0 0 0 0 0 0 0 0 0 0 0 0 0 0 0 0" font-size="8.4" fill="#151d23" stroke="#151d23" stroke-width="0.3">Q9_SWITCH_10.6.200.61 (10.6.200.61)</text>
<text transform="translate(87.44 630.8) scale(0.9988 1)" x="-0.13 4.29 6.61 11.3 14.11 18.49 23.24 25.27 29.67 35.95" font-size="8.0" fill="#d40000" stroke="#d40000" stroke-width="0.3">2 problems</text>
<rect x="33.65" y="690.00" width="147.10" height="26.60" fill="rgba(255,255,255,0.70)"/>
<text transform="translate(37.95 700.8) scale(0.9213 1)" x="-0.33 5.81 10.36 14.26 18.88 26.59 28.92 33.57 39.01 44.82 49.37 53.92 58.95 61.66 66.69 69.39 73.94 78.49 83.53 86.23 90.78 95.53 98.2 101.13 105.68 110.72 113.42 118.46 121.16 125.71 130.26 135.29 138 142.55 147.35" dy="0 0 -1 1 0 0 0 0 0 -1 1 0 0 0 0 0 0 0 0 0 0 0 0 0 0 0 0 0 0 0 0 0 0 0 0" font-size="8.4" fill="#151d23" stroke="#151d23" stroke-width="0.3">Q9_SWITCH_10.6.200.62 (10.6.200.62)</text>
<text transform="translate(102.2 710.8) scale(0.8651 1)" x="0 6.23" font-size="8.0" fill="#0a9a0a" stroke="#0a9a0a" stroke-width="0.3">OK</text>
<rect x="322.65" y="610.00" width="129.10" height="26.60" fill="rgba(255,255,255,0.70)"/>
<text transform="translate(326.95 620.8) scale(0.8840 1)" x="-0.07 5.7 12.05 16.14 21 28.91 31.4 36.27 41.94 47.96 52.34 57.86 63.78 69.07 74.49 77.28 80.38 85.12 90.32 93.18 98.38 101.25 105.99 110.73 115.93 118.8 123.54 128.28 133.25" dy="0 0 -1 1 0 0 0 0 0 -1 1 0 0 0 0 0 0 0 0 0 0 0 0 0 0 0 0 0 0" font-size="8.4" fill="#151d23" stroke="#151d23" stroke-width="0.3">HO_SWITCH_CORE (10.6.200.254)</text>
<text transform="translate(367.44 630.8) scale(0.9988 1)" x="-0.13 4.29 6.61 11.3 14.11 18.49 23.24 25.27 29.67 35.95" font-size="8.0" fill="#d40000" stroke="#d40000" stroke-width="0.3">5 problems</text>
<rect x="317.84" y="690.00" width="138.72" height="26.60" fill="rgba(255,255,255,0.70)"/>
<text transform="translate(322.14 700.8) scale(0.9228 1)" x="-0.34 5.8 10.34 14.23 18.84 26.54 28.86 33.51 38.93 44.74 49.28 53.82 58.85 61.55 66.58 69.27 73.81 78.36 83.39 86.08 90.82 93.49 96.41 100.96 105.99 108.68 113.71 116.41 120.95 125.49 130.52 133.21 138.01" dy="0 0 -1 1 0 0 0 0 0 -1 1 0 0 0 0 0 0 0 0 0 0 0 0 0 0 0 0 0 0 0 0 0 0" font-size="8.4" fill="#151d23" stroke="#151d23" stroke-width="0.3">Q9_SWITCH_10.6.200.2 (10.6.200.2)</text>
<text transform="translate(367.44 710.8) scale(0.9988 1)" x="-0.13 4.29 6.61 11.3 14.11 18.49 23.24 25.27 29.67 35.95" font-size="8.0" fill="#d40000" stroke="#d40000" stroke-width="0.3">4 problems</text>
<rect x="597.84" y="530.00" width="138.72" height="26.60" fill="rgba(255,255,255,0.70)"/>
<text transform="translate(602.14 540.8) scale(0.9228 1)" x="-0.34 5.8 10.34 14.23 18.84 26.54 28.86 33.51 38.93 44.74 49.28 53.82 58.85 61.55 66.58 69.27 73.81 78.36 83.39 86.08 90.82 93.49 96.41 100.96 105.99 108.68 113.71 116.41 120.95 125.49 130.52 133.21 138.01" dy="0 0 -1 1 0 0 0 0 0 -1 1 0 0 0 0 0 0 0 0 0 0 0 0 0 0 0 0 0 0 0 0 0 0" font-size="8.4" fill="#151d23" stroke="#151d23" stroke-width="0.3">Q9_SWITCH_10.6.200.4 (10.6.200.4)</text>
<text transform="translate(647.44 550.8) scale(0.9988 1)" x="-0.13 4.29 6.61 11.3 14.11 18.49 23.24 25.27 29.67 35.95" font-size="8.0" fill="#d40000" stroke="#d40000" stroke-width="0.3">5 problems</text>
<rect x="602.37" y="610.00" width="129.66" height="26.60" fill="rgba(255,255,255,0.70)"/>
<text transform="translate(606.67 620.8) scale(0.9395 1)" x="-0.25 5.17 11.2 15.29 21.79 26.7 29.66 34.28 38.8 40.84 44.66 49.64 56.12 58.79 61.65 65.84 70.62 73.23 76.09 80.55 85.51 88.14 93.1 95.72 100.18 104.65 109.61 112.23 116.69 121.16 125.89" dy="0 0 -1 1 0 0 0 0 0 -1 1 0 0 0 0 0 0 0 0 0 0 0 0 0 0 0 0 0 0 0 0" font-size="8.4" fill="#151d23" stroke="#151d23" stroke-width="0.3">HO_Meraki_Switch (10.6.201.100)</text>
<text transform="translate(647.44 630.8) scale(0.9988 1)" x="-0.13 4.29 6.61 11.3 14.11 18.49 23.24 25.27 29.67 35.95" font-size="8.0" fill="#d40000" stroke="#d40000" stroke-width="0.3">5 problems</text>
<rect x="593.65" y="690.00" width="147.10" height="26.60" fill="rgba(255,255,255,0.70)"/>
<text transform="translate(597.95 700.8) scale(0.9213 1)" x="-0.33 5.81 10.36 14.26 18.88 26.59 28.92 33.57 39.01 44.82 49.37 53.92 58.95 61.66 66.69 69.39 73.94 78.49 83.53 86.23 90.78 95.53 98.2 101.13 105.68 110.72 113.42 118.46 121.16 125.71 130.26 135.29 138 142.55 147.35" dy="0 0 -1 1 0 0 0 0 0 -1 1 0 0 0 0 0 0 0 0 0 0 0 0 0 0 0 0 0 0 0 0 0 0 0 0" font-size="8.4" fill="#151d23" stroke="#151d23" stroke-width="0.3">Q9_SWITCH_10.6.200.53 (10.6.200.53)</text>
<text transform="translate(647.44 710.8) scale(0.9988 1)" x="-0.13 4.29 6.61 11.3 14.11 18.49 23.24 25.27 29.67 35.95" font-size="8.0" fill="#d40000" stroke="#d40000" stroke-width="0.3">5 problems</text>
<rect x="593.65" y="770.00" width="147.10" height="26.60" fill="rgba(255,255,255,0.70)"/>
<text transform="translate(597.95 780.8) scale(0.9213 1)" x="-0.33 5.81 10.36 14.26 18.88 26.59 28.92 33.57 39.01 44.82 49.37 53.92 58.95 61.66 66.69 69.39 73.94 78.49 83.53 86.23 90.78 95.53 98.2 101.13 105.68 110.72 113.42 118.46 121.16 125.71 130.26 135.29 138 142.55 147.35" dy="0 0 -1 1 0 0 0 0 0 -1 1 0 0 0 0 0 0 0 0 0 0 0 0 0 0 0 0 0 0 0 0 0 0 0 0" font-size="8.4" fill="#151d23" stroke="#151d23" stroke-width="0.3">Q9_SWITCH_10.6.200.52 (10.6.200.52)</text>
<text transform="translate(645.34 790.8) scale(0.9931 1)" x="-0.11 4.11 8.54 10.89 15.59 18.43 22.83 27.6 29.65 34.08 40.38" font-size="8.0" fill="#d40000" stroke="#d40000" stroke-width="0.3">10 problems</text>
<rect x="789.92" y="610.00" width="74.55" height="26.60" fill="rgba(255,255,255,0.70)"/>
<text transform="translate(794.22 620.8) scale(0.9236 1)" x="-0.2 5.4 11.13 15.3 21.9 26.88 29.9 34.59 39.18 41.28 45.16 50.24 56.79 59.51 62.44 66.71" dy="0 0 -1 1 0 0 0 0 0 -1 1 0 0 0 0 0" font-size="8.4" fill="#151d23" stroke="#151d23" stroke-width="0.3">HN_Meraki_Switch</text>
<text transform="translate(807.44 630.8) scale(0.9988 1)" x="-0.13 4.29 6.61 11.3 14.11 18.49 23.24 25.27 29.67 35.95" font-size="8.0" fill="#d40000" stroke="#d40000" stroke-width="0.3">3 problems</text>
<rect x="780.69" y="690.00" width="93.02" height="26.60" fill="rgba(255,255,255,0.70)"/>
<text transform="translate(784.99 700.8) scale(0.8953 1)" x="-0.11 5.66 11.55 15.57 20.37 28.21 30.65 35.45 41.05 47.01 51.69 56.37 61.52 64.33 69.48 72.3 76.98 81.66 86.81 89.62" dy="0 0 -1 1 0 0 0 0 0 -1 1 0 0 0 0 0 0 0 0 0" font-size="8.4" fill="#151d23" stroke="#151d23" stroke-width="0.3">HN_SWITCH_10.4.200.2</text>
<text transform="translate(807.44 710.8) scale(0.9988 1)" x="-0.13 4.29 6.61 11.3 14.11 18.49 23.24 25.27 29.67 35.95" font-size="8.0" fill="#d40000" stroke="#d40000" stroke-width="0.3">8 problems</text>
<rect x="1046.99" y="650.00" width="120.42" height="26.60" fill="rgba(255,255,255,0.70)"/>
<text transform="translate(1051.29 660.8) scale(0.8840 1)" x="-0.07 5.77 11.73 15.81 20.68 28.56 33.85 35.94 41.61 47.64 52.02 57.54 63.46 68.74 74.17 76.96 80.05 84.79 89.99 92.86 98.06 100.92 105.66 110.4 115.6 118.47 123.44" dy="0 0 -1 1 0 0 0 0 0 -1 1 0 0 0 0 0 0 0 0 0 0 0 0 0 0 0 0" font-size="8.4" fill="#151d23" stroke="#151d23" stroke-width="0.3">HN_SWTICH_CORE (10.4.254.1)</text>
<text transform="translate(1085.34 670.8) scale(0.9931 1)" x="-0.11 4.11 8.54 10.89 15.59 18.43 22.83 27.6 29.65 34.08 40.38" font-size="8.0" fill="#d40000" stroke="#d40000" stroke-width="0.3">12 problems</text>
<rect x="327.54" y="307.90" width="119.33" height="26.10" fill="rgba(255,255,255,0.70)"/>
<text transform="translate(331.84 318.7) scale(0.8818 1)" x="-0.25 5.24 11.03 15.56 20.6 22.63 27.94 32.5 39.64 45.08 49.67 54.34 58.85 65.09 73.11 75.91 79.02 83.77 88.98 91.85 97.06 99.94 105.15 108.02 112.78 117.53 122.51" dy="0 0 -1 1 0 0 0 0 0 0 0 -1 1 0 0 0 0 0 0 0 0 0 0 0 0 0 0" font-size="8.4" fill="#151d23" stroke="#151d23" stroke-width="0.3">DC_FIREWALL_GW (10.0.0.254)</text>
<text transform="translate(369.06 328.7) scale(1.0000 1)" x="-0.13 4.28 6.6 11.28 14.09 18.47 23.21 25.24 29.63" font-size="8.0" fill="#d40000" stroke="#d40000" stroke-width="0.3">1 problem</text>
<rect x="1033.81" y="307.90" width="146.78" height="26.10" fill="rgba(255,255,255,0.70)"/>
<text transform="translate(1038.11 318.7) scale(0.8630 1)" x="0 5.49 10.26 16.16 20.79 25.91 28.03 33.44 38.13 45.4 50.95 55.64 60.41 65.04 71.42 79.43 83.62 88.58 94.36 100.92 106.54 109.4 112.6 117.45 122.75 125.71 131.01 133.97 139.27 142.23 147.09 151.95 157.01" dy="0 0 0 -1 1 0 0 0 0 0 0 0 -1 1 0 -1 1 0 0 0 0 0 0 0 0 0 0 0 0 0 0 0 0" font-size="8.4" fill="#151d23" stroke="#151d23" stroke-width="0.3">HSC_FIREWALL_GW_SNMP (10.2.0.254)</text>
<text transform="translate(1089.06 328.7) scale(1.0000 1)" x="-0.13 4.28 6.6 11.28 14.09 18.47 23.21 25.24 29.63" font-size="8.0" fill="#d40000" stroke="#d40000" stroke-width="0.3">1 problem</text>
<rect x="327.07" y="467.90" width="120.26" height="26.10" fill="rgba(255,255,255,0.70)"/>
<text transform="translate(331.37 478.7) scale(0.8859 1)" x="-0.08 5.68 12.02 16.53 21.55 23.57 28.85 33.39 40.5 45.91 50.48 55.13 59.62 65.82 73.82 76.61 79.69 84.43 89.62 92.47 97.66 100.52 105.71 108.56 113.3 118.03 122.99" dy="0 0 -1 1 0 0 0 0 0 0 0 -1 1 0 0 0 0 0 0 0 0 0 0 0 0 0 0" font-size="8.4" fill="#151d23" stroke="#151d23" stroke-width="0.3">HO_FIREWALL_GW (10.6.0.254)</text>
<text transform="translate(369.06 488.7) scale(1.0000 1)" x="-0.13 4.28 6.6 11.28 14.09 18.47 23.21 25.24 29.63" font-size="8.0" fill="#d40000" stroke="#d40000" stroke-width="0.3">1 problem</text>
<rect x="1027.19" y="467.90" width="160.02" height="26.10" fill="rgba(255,255,255,0.70)"/>
<text transform="translate(1031.49 478.7) scale(0.8743 1)" x="-0.04 5.87 11.88 16.45 21.52 23.59 28.94 33.55 40.74 46.22 50.85 55.57 60.12 66.42 74.34 78.47 83.36 89.06 95.55 101.12 103.94 107.08 111.88 117.12 120.03 124.82 129.62 134.86 137.77 142.56 147.36 152.6 155.51 160.31 165.1 170.11" dy="0 0 -1 1 0 0 0 0 0 0 0 -1 1 0 -1 1 0 0 0 0 0 0 0 0 0 0 0 0 0 0 0 0 0 0 0 0" font-size="8.4" fill="#151d23" stroke="#151d23" stroke-width="0.3">HN_FIREWALL_GW_SNMP (10.254.254.251)</text>
<text transform="translate(1089.06 488.7) scale(1.0000 1)" x="-0.13 4.28 6.6 11.28 14.09 18.47 23.21 25.24 29.63" font-size="8.0" fill="#d40000" stroke="#d40000" stroke-width="0.3">1 problem</text>
<rect x="639.81" y="111.00" width="55.38" height="16.90" fill="rgba(255,255,255,0.70)"/>
<text transform="translate(644.11 121.8) scale(0.9365 1)" x="-0.48 4.64 10.69 16.39 18.86 21.22 26.41 29.26 34.18 37.24 41.9 47.09" font-size="8.4" fill="#151d23" stroke="#151d23" stroke-width="0.3">CMC Internet</text>
<rect x="712.29" y="311.00" width="86.42" height="16.90" fill="rgba(255,255,255,0.70)"/>
<text transform="translate(716.59 321.8) scale(0.8400 1)" x="-0.18 5.57 12.26 18.41 20.89 27.62 33.15 37.38 43.8 47.36 52.87 58.29 64.11 69.55 74.99 81.47 87.29" font-size="8.4" fill="#151d23" stroke="#151d23" stroke-width="0.3">CMC MPLS/BACKBONE</text>
<rect x="1360.78" y="191.00" width="53.45" height="16.90" fill="rgba(255,255,255,0.70)"/>
<text transform="translate(1365.08 201.8) scale(0.9606 1)" x="-0.38 3.89 8.87 13.94 16.35 18.62 23.71 26.46 31.28 34.24 38.78 43.87" font-size="8.4" fill="#151d23" stroke="#151d23" stroke-width="0.3">FPT Internet</text>
<rect x="1355.24" y="311.00" width="64.53" height="16.90" fill="rgba(255,255,255,0.70)"/>
<text transform="translate(1359.54 321.8) scale(1.0000 1)" x="-0.45 4.9 6.82 11.75 14.92 17.52 22.28 24.43 26.74 28.87 33.81 36.4 41.08 43.88 48.24 53.18" font-size="8.4" fill="#151d23" stroke="#151d23" stroke-width="0.3">Viettel Internet</text>
<rect x="639.81" y="471.00" width="55.38" height="16.90" fill="rgba(255,255,255,0.70)"/>
<text transform="translate(644.11 481.8) scale(0.9365 1)" x="-0.48 4.64 10.69 16.39 18.86 21.22 26.41 29.26 34.18 37.24 41.9 47.09" font-size="8.4" fill="#151d23" stroke="#151d23" stroke-width="0.3">CMC Internet</text>
<rect x="1360.78" y="471.00" width="53.45" height="16.90" fill="rgba(255,255,255,0.70)"/>
<text transform="translate(1365.08 481.8) scale(0.9606 1)" x="-0.38 3.89 8.87 13.94 16.35 18.62 23.71 26.46 31.28 34.24 38.78 43.87" font-size="8.4" fill="#151d23" stroke="#151d23" stroke-width="0.3">FPT Internet</text>
<rect x="1355.24" y="591.00" width="64.53" height="16.90" fill="rgba(255,255,255,0.70)"/>
<text transform="translate(1359.54 601.8) scale(1.0000 1)" x="-0.45 4.9 6.82 11.75 14.92 17.52 22.28 24.43 26.74 28.87 33.81 36.4 41.08 43.88 48.24 53.18" font-size="8.4" fill="#151d23" stroke="#151d23" stroke-width="0.3">Viettel Internet</text>
</g>
</svg>
</body>
</html>
